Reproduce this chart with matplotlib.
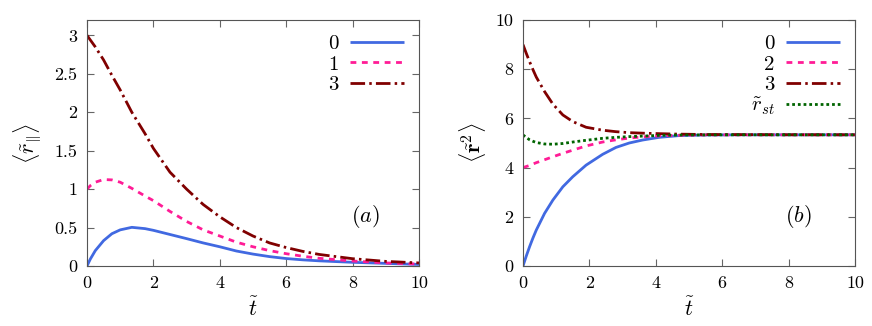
import matplotlib
matplotlib.use("Agg")
import matplotlib.pyplot as plt

plt.rcParams['font.family'] = ['cmr10', 'DejaVu Serif']
plt.rcParams['mathtext.fontset'] = 'cm'
plt.rcParams['axes.unicode_minus'] = False
plt.rcParams['lines.scale_dashes'] = False

# ---------------- data: panel (a) ----------------
t_a = [0, 0.1, 0.25, 0.5, 0.75, 1, 1.35, 1.75, 2, 2.5, 3, 3.5, 4, 4.5, 5, 5.5, 6,
       6.5, 7, 8, 9, 10]
ra_0 = [0, 0.09, 0.20, 0.33, 0.42, 0.47, 0.503, 0.486, 0.464, 0.41, 0.356, 0.30, 0.25,
        0.195, 0.155, 0.122, 0.097, 0.08, 0.067, 0.048, 0.034, 0.02]
ra_1 = [1.0, 1.045, 1.09, 1.125, 1.12, 1.09, 1.01, 0.91, 0.85, 0.71, 0.58, 0.47, 0.39,
        0.31, 0.25, 0.20, 0.16, 0.127, 0.10, 0.065, 0.04, 0.025]
ra_3 = [3.0, 2.94, 2.85, 2.68, 2.48, 2.29, 2.0, 1.72, 1.53, 1.22, 1.0, 0.80, 0.64,
        0.50, 0.39, 0.30, 0.24, 0.19, 0.15, 0.095, 0.06, 0.04]
labels_a = ['0', '1', '3']

# ---------------- data: panel (b) ----------------
t_b = [0, 0.1, 0.2, 0.3, 0.4, 0.65, 0.9, 1.2, 1.5, 1.9, 2.4, 2.8, 3.2, 3.6, 4.1, 4.7,
       5.5, 6.5, 8, 10]
rb_0 = [0, 0.41, 0.79, 1.14, 1.46, 2.14, 2.68, 3.22, 3.63, 4.1, 4.54, 4.82, 5.0, 5.12,
        5.23, 5.30, 5.325, 5.333, 5.333, 5.333]
rb_2 = [4.0, 4.045, 4.09, 4.145, 4.2, 4.32, 4.44, 4.58, 4.71, 4.88, 5.04, 5.13, 5.20,
        5.25, 5.29, 5.315, 5.33, 5.333, 5.333, 5.333]
rb_3 = [9.0, 8.64, 8.30, 7.98, 7.68, 7.09, 6.58, 6.14, 5.87, 5.64, 5.52, 5.46, 5.42,
        5.40, 5.38, 5.36, 5.345, 5.34, 5.335, 5.333]
rb_st = [5.33, 5.22, 5.13, 5.07, 5.02, 4.96, 4.95, 4.98, 5.04, 5.11, 5.19, 5.23, 5.26,
         5.28, 5.31, 5.325, 5.33, 5.333, 5.333, 5.333]
labels_b = ['0', '2', '3', r'$\tilde{r}_{st}$']

xticks = [0, 2, 4, 6, 8, 10]
yticks_a = [0, 0.5, 1, 1.5, 2, 2.5, 3]
yticklabels_a = ['0', '0.5', '1', '1.5', '2', '2.5', '3']
yticks_b = [0, 2, 4, 6, 8, 10]

# ---------------- styles ----------------
c_blue = '#4169e1'
c_pink = '#ff1c96'
c_dred = '#800000'
c_green = '#006400'
lw = 2.0
ls_pink = (0, (4.2, 4.0))
ls_dred = (0, (10.5, 3.0, 1.8, 3.0))
ls_green = (0, (2.0, 2.1))

fig = plt.figure(figsize=(8.72, 3.26), dpi=100)
ax1 = fig.add_axes([87/872, 1-266/326, 332/872, 246/326])
ax2 = fig.add_axes([523/872, 1-266/326, 332/872, 246/326])

ax1.plot(t_a, ra_0, color=c_blue, lw=lw, solid_capstyle='butt', label=labels_a[0])
ax1.plot(t_a, ra_1, color=c_pink, lw=lw, ls=ls_pink, dash_capstyle='butt', label=labels_a[1])
ax1.plot(t_a, ra_3, color=c_dred, lw=lw, ls=ls_dred, dash_capstyle='butt', label=labels_a[2])

ax2.plot(t_b, rb_0, color=c_blue, lw=lw, solid_capstyle='butt', label=labels_b[0])
ax2.plot(t_b, rb_2, color=c_pink, lw=lw, ls=ls_pink, dash_capstyle='butt', label=labels_b[1])
ax2.plot(t_b, rb_3, color=c_dred, lw=lw, ls=ls_dred, dash_capstyle='butt', label=labels_b[2])
ax2.plot(t_b, rb_st, color=c_green, lw=lw, ls=ls_green, dash_capstyle='butt', label=labels_b[3])

for ax in (ax1, ax2):
    ax.set_xlim(0, 10)
    ax.set_xticks(xticks)
    ax.set_xticklabels([str(v) for v in xticks])
    ax.tick_params(direction='in', top=True, right=True, length=5, width=0.8,
                   color='#666666', labelsize=13, pad=7)
    for s in ax.spines.values():
        s.set_linewidth(0.8)
        s.set_color('#555555')
    ax.set_xlabel(r'$\tilde{t}$', fontsize=16, labelpad=4)
    ax.legend(loc='upper right', frameon=False, markerfirst=False, fontsize=15,
              handlelength=2.6, handletextpad=0.55, labelspacing=0.09,
              borderaxespad=0.4, borderpad=0.3)

ax1.set_ylim(0, 3.2)
ax1.set_yticks(yticks_a)
ax1.set_yticklabels(yticklabels_a)
ax1.set_ylabel(r'$\langle \tilde{r}_{\|} \rangle$', fontsize=16, labelpad=8)
ax1.text(8.4, 0.64, r'$(a)$', fontsize=16, ha='center', va='center')

ax2.set_ylim(0, 10)
ax2.set_yticks(yticks_b)
ax2.set_yticklabels([str(v) for v in yticks_b])
ax2.set_ylabel(r'$\langle \tilde{\mathbf{r}}^2 \rangle$', fontsize=16, labelpad=5)
ax2.text(8.3, 2.0, r'$(b)$', fontsize=16, ha='center', va='center')

fig.savefig('out.png', dpi=100)
